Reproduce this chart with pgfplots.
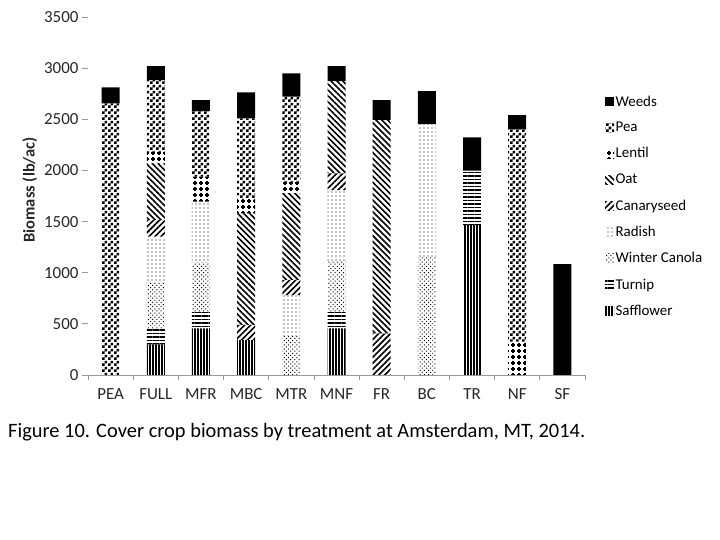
\documentclass[border=0pt]{standalone}
\usepackage{fontspec}
\setmainfont{Carlito}
\usepackage{pgfplots}
\usepackage{pgfplotstable}
\pgfplotsset{compat=1.18}
\usetikzlibrary{patterns,patterns.meta}

\pgfdeclarepatternformonly{peachk}{\pgfpointorigin}{\pgfqpoint{6bp}{6bp}}{\pgfqpoint{6bp}{6bp}}{%
  \pgfpathrectangle{\pgfpointorigin}{\pgfqpoint{3bp}{3bp}}%
  \pgfpathrectangle{\pgfqpoint{3bp}{3bp}}{\pgfqpoint{3bp}{3bp}}%
  \pgfusepath{fill}}
\pgfdeclarepatternformonly{lentilplus}{\pgfqpoint{-1bp}{-1bp}}{\pgfqpoint{7bp}{7bp}}{\pgfqpoint{6bp}{6bp}}{%
  \pgfsetlinewidth{1.3bp}%
  \pgfpathmoveto{\pgfqpoint{0.8bp}{3bp}}\pgfpathlineto{\pgfqpoint{5.2bp}{3bp}}%
  \pgfpathmoveto{\pgfqpoint{3bp}{0.8bp}}\pgfpathlineto{\pgfqpoint{3bp}{5.2bp}}%
  \pgfusepath{stroke}}

\pgfplotstableread{
x Saff Turnip Canola Radish Canary Oat Lentil Pea Weeds
0 0 0 0 0 0 0 0 2655 157
1 300 156 444 452 163 554 114 701 136
2 456 163 481 594 0 0 245 642 107
3 342 0 0 0 147 1091 147 782 254
4 0 0 380 400 150 847 114 830 228
5 456 163 500 689 163 903 0 0 146
6 0 0 0 0 407 2086 0 0 195
7 0 0 1150 1303 0 0 0 0 323
8 1466 531 0 0 0 0 0 0 326
9 0 0 0 0 0 0 326 2075 140
10 0 0 0 0 0 0 0 0 1085
}\datatable

\begin{document}
\begin{tikzpicture}
\path[use as bounding box] (0,0) rectangle (720bp,540bp);
\begin{axis}[
  at={(88bp,165bp)}, anchor=south west,
  scale only axis, width=497bp, height=358bp,
  xmin=-0.5, xmax=10.5, ymin=0, ymax=3500,
  ybar stacked, bar width=18bp,
  xtick={0,...,10},
  xticklabels={PEA,FULL,MFR,MBC,MTR,MNF,FR,BC,TR,NF,SF},
  minor xtick={-0.5,0.5,...,10.5},
  ytick={0,500,...,3500},
  axis x line*=bottom, axis y line*=left,
  y axis line style={draw=none},
  x axis line style={draw=gray!80, line width=0.8bp},
  tick align=outside,
  major tick length=6bp, minor tick length=5bp,
  major x tick style={draw=none},
  minor x tick style={draw=gray!80, line width=0.8bp},
  ytick style={draw=gray!80, line width=0.8bp},
  /pgf/number format/assume math mode=true,
  /pgf/number format/set thousands separator={},
  tick label style={font=\fontsize{17}{18}\selectfont, text=black!85},
  xticklabel style={yshift=-4bp},
  ylabel={\bfseries Biomass (lb/ac)},
  ylabel style={at={(axis description cs:-0.117,0.517)}, anchor=center, font=\fontsize{16.5}{17}\selectfont, text=black!85},
  legend style={at={(1.04,0.785)}, anchor=north west, draw=none, fill=none,
    font=\fontsize{15}{15}\selectfont, row sep=11.5bp, inner sep=0pt, nodes={inner sep=1.5bp}},
  legend cell align=left, reverse legend,
  legend image code/.code={\fill[#1] (0bp,-4.5bp) rectangle (9bp,4.5bp);},
]
\addplot[draw=none, fill=white, pattern={Lines[angle=90, distance=3bp, line width=1.2bp]}] table[x=x, y=Saff] {\datatable};
\addlegendentry{Safflower}
\addplot[draw=none, fill=white, pattern={Lines[angle=0, distance=3.5bp, line width=1.5bp]}] table[x=x, y=Turnip] {\datatable};
\addlegendentry{Turnip}
\addplot[draw=none, fill=white, pattern={Dots[radius=0.7bp, distance=3bp, angle=45]}] table[x=x, y=Canola] {\datatable};
\addlegendentry{Winter Canola}
\addplot[draw=none, fill=white, pattern={Dots[radius=0.7bp, distance=4bp]}] table[x=x, y=Radish] {\datatable};
\addlegendentry{Radish}
\addplot[draw=none, fill=white, pattern={Lines[angle=45, distance=4.2bp, line width=1.6bp]}] table[x=x, y=Canary] {\datatable};
\addlegendentry{Canaryseed}
\addplot[draw=none, fill=white, pattern={Lines[angle=-45, distance=4.2bp, line width=1.6bp]}] table[x=x, y=Oat] {\datatable};
\addlegendentry{Oat}
\addplot[draw=none, fill=white, pattern=lentilplus] table[x=x, y=Lentil] {\datatable};
\addlegendentry{Lentil}
\addplot[draw=none, fill=white, pattern=peachk] table[x=x, y=Pea] {\datatable};
\addlegendentry{Pea}
\addplot[draw=none, fill=black] table[x=x, y=Weeds] {\datatable};
\addlegendentry{Weeds}
\end{axis}
\node[anchor=west, font=\fontsize{20.5}{21}\selectfont, inner sep=0pt] at (8bp,108bp) {Figure 10. Cover crop biomass by treatment at Amsterdam, MT, 2014.};
\end{tikzpicture}
\end{document}
